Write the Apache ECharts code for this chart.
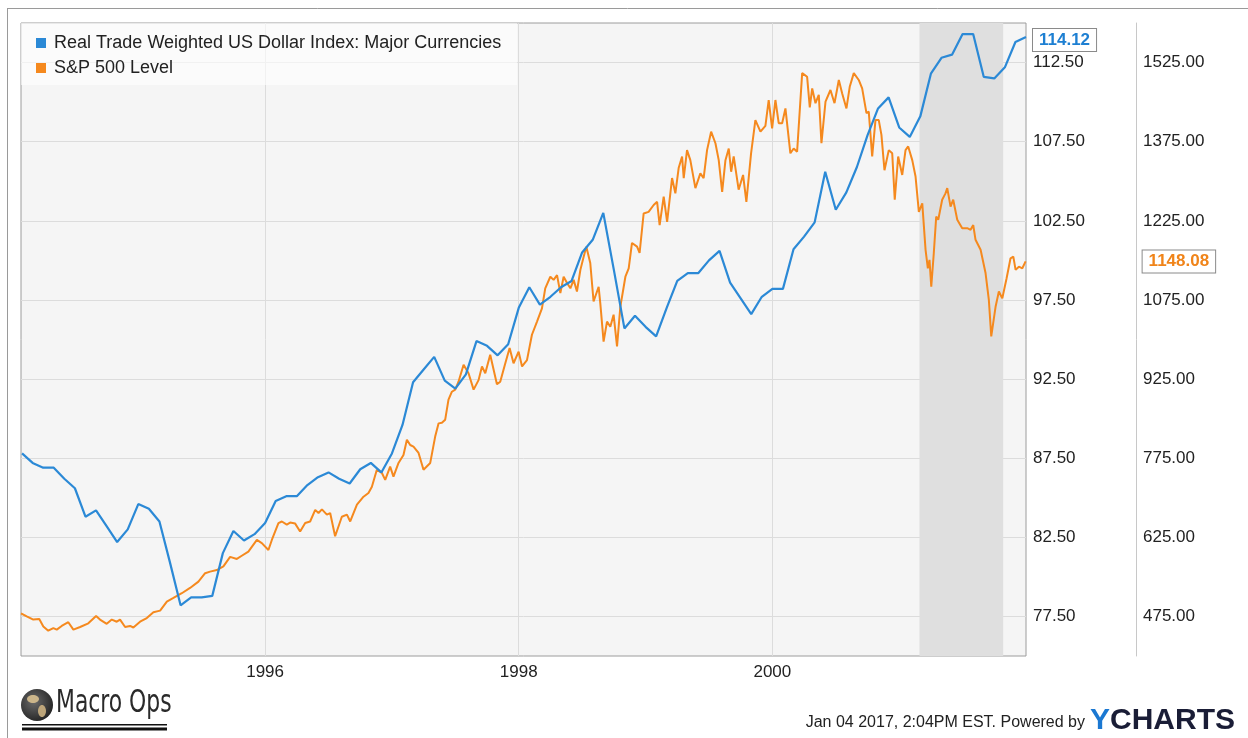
<!DOCTYPE html>
<html>
<head>
<meta charset="utf-8">
<title>US Dollar Index vs S&amp;P 500</title>
<script src="https://cdn.jsdelivr.net/npm/echarts@6/dist/echarts.min.js"></script>
<style>
  html, body { margin: 0; padding: 0; background: #fff; }
  #chart { width: 1248px; height: 738px; }
</style>
</head>
<body>
<div id="chart"></div>
<script>
// Real Trade Weighted US Dollar Index: Major Currencies (monthly, starting Feb 1994)
const dollarStart = 1994 + 1 / 12
const dollarValues = [
  87.8, 87.2, 86.9, 86.9, 86.2, 85.6, 83.8, 84.2, 83.2, 82.2, 83.0, 84.6,
  84.3, 83.5, 80.9, 78.2, 78.7, 78.7, 78.8, 81.5, 82.9, 82.3, 82.7, 83.4,
  84.8, 85.1, 85.1, 85.8, 86.3, 86.6, 86.2, 85.9, 86.8, 87.2, 86.6, 87.8,
  89.6, 92.3, 93.1, 93.9, 92.4, 91.9, 92.8, 94.9, 94.6, 94.0, 94.7, 97.0,
  98.3, 97.2, 97.7, 98.3, 98.7, 100.5, 101.3, 103.0, 99.4, 95.7, 96.5, 95.8,
  95.2, 97.0, 98.7, 99.2, 99.2, 100.0, 100.6, 98.6, 97.6, 96.6, 97.7, 98.2,
  98.2, 100.7, 101.5, 102.4, 105.6, 103.2, 104.3, 105.9, 107.9, 109.6, 110.3, 108.4,
  107.8, 109.1, 111.8, 112.8, 113.0, 114.3, 114.3, 111.6, 111.5, 112.2, 113.8, 114.12
]

// S&P 500 level, dates as decimal years
const spxYears = [
  1994.075, 1994.120, 1994.172, 1994.219, 1994.251, 1994.290, 1994.330, 1994.357, 1994.396, 1994.448,
  1994.488, 1994.541, 1994.606, 1994.667, 1994.698, 1994.751, 1994.791, 1994.830, 1994.856, 1994.896,
  1994.935, 1994.961, 1995.014, 1995.067, 1995.119, 1995.172, 1995.225, 1995.277, 1995.343, 1995.408,
  1995.474, 1995.527, 1995.566, 1995.619, 1995.671, 1995.724, 1995.777, 1995.816, 1995.868, 1995.935,
  1995.974, 1996.026, 1996.053, 1996.105, 1996.132, 1996.171, 1996.197, 1996.237, 1996.276, 1996.316,
  1996.355, 1996.395, 1996.421, 1996.448, 1996.487, 1996.513, 1996.552, 1996.605, 1996.645, 1996.671,
  1996.724, 1996.776, 1996.815, 1996.842, 1996.881, 1996.921, 1996.947, 1996.986, 1997.012, 1997.052,
  1997.091, 1997.118, 1997.144, 1997.170, 1997.210, 1997.249, 1997.302, 1997.341, 1997.368, 1997.394,
  1997.420, 1997.446, 1997.473, 1997.499, 1997.525, 1997.565, 1997.604, 1997.644, 1997.683, 1997.710,
  1997.736, 1997.775, 1997.828, 1997.854, 1997.894, 1997.928, 1997.959, 1997.999, 1998.026, 1998.065,
  1998.104, 1998.144, 1998.183, 1998.209, 1998.249, 1998.275, 1998.302, 1998.328, 1998.354, 1998.381,
  1998.407, 1998.433, 1998.459, 1998.486, 1998.512, 1998.533, 1998.564, 1998.590, 1998.630, 1998.643,
  1998.669, 1998.696, 1998.722, 1998.748, 1998.775, 1998.801, 1998.841, 1998.867, 1998.893, 1998.933,
  1998.953, 1998.985, 1999.024, 1999.064, 1999.091, 1999.111, 1999.143, 1999.170, 1999.209, 1999.235,
  1999.261, 1999.288, 1999.301, 1999.327, 1999.353, 1999.393, 1999.432, 1999.458, 1999.485, 1999.517,
  1999.551, 1999.577, 1999.604, 1999.630, 1999.656, 1999.675, 1999.695, 1999.734, 1999.769, 1999.795,
  1999.832, 1999.866, 1999.906, 1999.945, 1999.971, 1999.998, 2000.024, 2000.050, 2000.077, 2000.103,
  2000.142, 2000.168, 2000.195, 2000.235, 2000.274, 2000.295, 2000.314, 2000.340, 2000.366, 2000.387,
  2000.419, 2000.458, 2000.490, 2000.524, 2000.550, 2000.584, 2000.610, 2000.642, 2000.681, 2000.708,
  2000.742, 2000.760, 2000.787, 2000.813, 2000.839, 2000.860, 2000.884, 2000.918, 2000.945, 2000.965,
  2000.992, 2001.024, 2001.050, 2001.071, 2001.103, 2001.129, 2001.155, 2001.182, 2001.208, 2001.226,
  2001.239, 2001.253, 2001.273, 2001.292, 2001.308, 2001.339, 2001.365, 2001.379, 2001.405, 2001.426,
  2001.458, 2001.497, 2001.537, 2001.563, 2001.584, 2001.602, 2001.642, 2001.681, 2001.707, 2001.726,
  2001.760, 2001.786, 2001.813, 2001.847, 2001.878, 2001.900, 2001.918, 2001.944, 2001.971, 2001.997
]
const spxValues = [
  481, 475, 469, 470, 456, 448, 453, 450, 457, 464,
  450, 455, 462, 476, 469, 461, 469, 465, 469, 455,
  457, 454, 465, 472, 483, 486, 503, 510, 519, 529,
  541, 557, 560, 563, 570, 588, 584, 590, 598, 620,
  614, 601, 620, 652, 655, 649, 653, 651, 636, 652,
  655, 677, 671, 678, 668, 671, 627, 664, 668, 655,
  687, 702, 709, 721, 753, 747, 734, 759, 740, 766,
  781, 810, 800, 797, 785, 753, 766, 816, 841, 842,
  848, 886, 901, 905, 920, 952, 936, 905, 923, 949,
  936, 971, 915, 920, 955, 984, 955, 977, 949, 961,
  1009, 1034, 1059, 1097, 1119, 1113, 1122, 1088, 1119, 1107,
  1097, 1113, 1091, 1132, 1157, 1176, 1145, 1072, 1100, 1069,
  996, 1034, 1024, 1047, 987, 1062, 1119, 1135, 1183, 1176,
  1164, 1239, 1242, 1255, 1261, 1217, 1271, 1223, 1306, 1277,
  1325, 1347, 1306, 1359, 1340, 1287, 1315, 1306, 1359, 1394,
  1372, 1340, 1280, 1340, 1362, 1318, 1347, 1284, 1312, 1261,
  1353, 1416, 1394, 1405, 1454, 1400, 1454, 1410, 1410, 1438,
  1353, 1362, 1356, 1505, 1498, 1440, 1476, 1448, 1464, 1372,
  1451, 1473, 1448, 1492, 1467, 1438, 1479, 1505, 1492, 1476,
  1429, 1432, 1347, 1416, 1416, 1388, 1321, 1359, 1353, 1265,
  1347, 1312, 1359, 1366, 1340, 1309, 1242, 1258, 1170, 1135,
  1151, 1100, 1164, 1233, 1227, 1265, 1277, 1287, 1252, 1265,
  1227, 1211, 1211, 1208, 1217, 1189, 1170, 1126, 1075, 1006,
  1062, 1091, 1078, 1116, 1154, 1157, 1132, 1138, 1135, 1148.08
]

const yearTicks = [1996, 1998, 2000]
const dollarTicks = [77.5, 82.5, 87.5, 92.5, 97.5, 102.5, 107.5, 112.5]
const spxTicks = [475, 625, 775, 925, 1075, 1225, 1375, 1525]
const recession = [2001.16, 2001.82]

const dollarName = 'Real Trade Weighted US Dollar Index: Major Currencies'
const spxName = 'S&P 500 Level'
const blue = '#2b89d6'
const orange = '#f5891e'
const font = "'Liberation Sans', Arial, sans-serif"

const chart = echarts.init(document.getElementById('chart'))

chart.setOption({
  animation: false,
  textStyle: { fontFamily: font },
  grid: {
    left: 21, top: 23, width: 1005, height: 633,
    show: true, backgroundColor: '#f5f5f5', borderColor: '#9c9c9c', borderWidth: 1
  },
  legend: {
    data: [dollarName, spxName],
    orient: 'vertical',
    left: 21, top: 23,
    padding: [11, 16, 8, 15],
    itemGap: 7,
    itemWidth: 10, itemHeight: 10,
    icon: 'rect',
    backgroundColor: 'rgba(255,255,255,0.6)',
    textStyle: { fontSize: 18, color: '#222', padding: [0, 0, 0, 3] }
  },
  xAxis: {
    type: 'value',
    min: 1994.075, max: 2002,
    axisLine: { show: false },
    axisTick: { show: false, customValues: yearTicks },
    axisLabel: {
      customValues: yearTicks, formatter: v => String(v),
      color: '#222', fontSize: 17, margin: 8
    },
    splitLine: { show: true, lineStyle: { color: '#dcdcdc' } }
  },
  yAxis: [
    {
      type: 'value', position: 'right',
      min: 75, max: 115,
      axisLine: { show: false },
      axisTick: { show: false, customValues: dollarTicks },
      axisLabel: {
        customValues: dollarTicks, formatter: v => v.toFixed(2),
        color: '#222', fontSize: 17, margin: 7
      },
      splitLine: { show: true, lineStyle: { color: '#dcdcdc' } }
    },
    {
      type: 'value', position: 'right', offset: 110,
      min: 400, max: 1600,
      axisLine: { show: true, lineStyle: { color: '#c8c8c8' } },
      axisTick: { show: false, customValues: spxTicks },
      axisLabel: {
        customValues: spxTicks, formatter: v => v.toFixed(2),
        color: '#222', fontSize: 17, margin: 7
      },
      splitLine: { show: false }
    }
  ],
  series: [
    {
      name: 'recession',
      type: 'line',
      data: [],
      z: 1,
      silent: true,
      markArea: {
        silent: true,
        itemStyle: { color: '#dfdfdf' },
        data: [[{ xAxis: recession[0] }, { xAxis: recession[1] }]]
      }
    },
    {
      name: dollarName,
      type: 'line',
      yAxisIndex: 0,
      data: dollarValues.map((v, i) => [dollarStart + i / 12, v]),
      showSymbol: false,
      color: blue,
      lineStyle: { width: 2.2 },
      z: 3,
      endLabel: {
        show: true,
        distance: 7,
        offset: [0, 3],
        formatter: p => p.value[1].toFixed(2),
        color: '#1d7fd2', fontWeight: 'bold', fontSize: 17,
        backgroundColor: '#fff', borderColor: '#8a8a8a', borderWidth: 1,
        padding: [3, 6, 2, 6]
      }
    },
    {
      name: spxName,
      type: 'line',
      yAxisIndex: 1,
      data: spxYears.map((t, i) => [t, spxValues[i]]),
      showSymbol: false,
      color: orange,
      lineStyle: { width: 2 },
      z: 2,
      endLabel: {
        show: true,
        distance: 117,
        formatter: p => p.value[1].toFixed(2),
        color: '#f08419', fontWeight: 'bold', fontSize: 17,
        backgroundColor: '#fff', borderColor: '#8a8a8a', borderWidth: 1,
        padding: [3, 6, 2, 6]
      }
    }
  ],
  graphic: [
    { type: 'line', shape: { x1: 7, y1: 8.5, x2: 1248, y2: 8.5 }, style: { stroke: '#9a9a9a', lineWidth: 1 } },
    { type: 'line', shape: { x1: 7.5, y1: 8, x2: 7.5, y2: 738 }, style: { stroke: '#9a9a9a', lineWidth: 1 } },
    // Macro Ops logo
    {
      type: 'circle', shape: { cx: 37, cy: 705, r: 16 },
      style: {
        fill: {
          type: 'radial', x: 0.4, y: 0.4, r: 0.7,
          colorStops: [{ offset: 0, color: '#6a6a6a' }, { offset: 1, color: '#1e1e1e' }]
        }
      }
    },
    { type: 'ellipse', shape: { cx: 33, cy: 699, rx: 6, ry: 4 }, style: { fill: '#cbb58a' } },
    { type: 'ellipse', shape: { cx: 42, cy: 711, rx: 4, ry: 6 }, style: { fill: '#bda57a' } },
    {
      type: 'text', x: 56, y: 704, scaleX: 0.76,
      style: {
        text: 'Macro Ops', fill: '#2a2a2a',
        font: "32px 'Liberation Sans Narrow', 'DejaVu Sans Condensed', sans-serif",
        textVerticalAlign: 'middle'
      }
    },
    { type: 'rect', shape: { x: 22, y: 724, width: 145, height: 1.5 }, style: { fill: '#111' } },
    { type: 'rect', shape: { x: 22, y: 727.5, width: 145, height: 3 }, style: { fill: '#111' } },
    // footer
    {
      type: 'text', x: 1085, y: 723,
      style: {
        text: 'Jan 04 2017, 2:04PM EST. Powered by', fill: '#222',
        font: "16px 'Liberation Sans', Arial, sans-serif",
        textAlign: 'right', textVerticalAlign: 'middle'
      }
    },
    {
      type: 'text', x: 1090, y: 721,
      style: {
        text: 'Y', fill: '#1b78d2',
        font: "bold 30px 'Liberation Sans', Arial, sans-serif",
        textVerticalAlign: 'middle'
      }
    },
    {
      type: 'text', x: 1110, y: 721,
      style: {
        text: 'CHARTS', fill: '#1a1d36',
        font: "bold 30px 'Liberation Sans', Arial, sans-serif",
        textVerticalAlign: 'middle'
      }
    }
  ]
})
</script>
</body>
</html>
